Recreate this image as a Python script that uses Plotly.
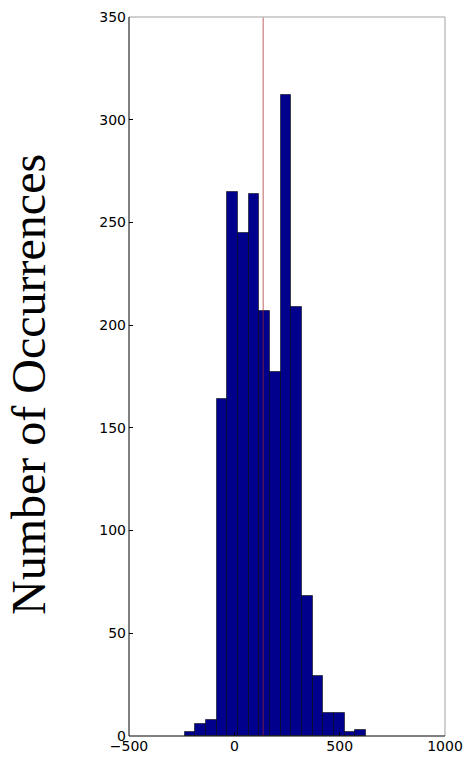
import numpy as np
import plotly.graph_objects as go

# Histogram counts per bin (equal-width bins)
bin_start = -235.0
bin_width = 50.6
counts = [2, 6, 8, 164, 265, 245, 264, 207, 177, 312, 209, 68, 29, 11, 11, 2, 3]
mean_value = 137.0

x_ticks = [-500, 0, 500, 1000]
x_tick_text = ["\u2212500", "0", "500", "1000"]
y_ticks = [0, 50, 100, 150, 200, 250, 300, 350]

edges = bin_start + bin_width * np.arange(len(counts) + 1)
centers = (edges[:-1] + edges[1:]) / 2

fig = go.Figure()
fig.add_trace(go.Bar(
    x=centers, y=counts, width=bin_width,
    marker=dict(color="#00008c", line=dict(color="rgba(0,0,0,0.55)", width=1)),
    showlegend=False, hoverinfo="skip",
))
fig.add_trace(go.Scatter(
    x=[mean_value, mean_value], y=[0, 350], mode="lines",
    line=dict(color="rgba(165,40,40,0.6)", width=1.2),
    showlegend=False, hoverinfo="skip",
))

tick_font = dict(family="DejaVu Sans", size=14, color="black")
fig.update_layout(
    width=469, height=761,
    margin=dict(l=129, r=24, t=17, b=25, autoexpand=False),
    paper_bgcolor="white", plot_bgcolor="white",
    bargap=0,
    xaxis=dict(
        range=[-500, 1000], tickvals=x_ticks, ticktext=x_tick_text,
        showgrid=False, zeroline=False, ticks="inside", ticklen=4,
        tickcolor="black", showline=False, tickfont=tick_font,
        automargin=False,
    ),
    yaxis=dict(
        range=[0, 350], tickvals=y_ticks, showgrid=False, zeroline=False,
        ticks="inside", ticklen=4, tickcolor="black", showline=False,
        tickfont=tick_font, ticklabelstandoff=2, automargin=False,
    ),
    annotations=[
        dict(text="Number of Occurrences", textangle=-90, showarrow=False,
             xref="paper", yref="paper", x=-0.3165, y=0.4896,
             xanchor="center", yanchor="middle",
             font=dict(family="Liberation Serif", size=48, color="black")),
    ],
    shapes=[
        # light top and right frame
        dict(type="line", xref="paper", yref="paper", x0=0, x1=1, y0=1, y1=1,
             line=dict(color="#c0c0c0", width=1.5)),
        dict(type="line", xref="paper", yref="paper", x0=1, x1=1, y0=0, y1=1,
             line=dict(color="#c0c0c0", width=1.5)),
        # dark left and bottom frame
        dict(type="line", xref="paper", yref="paper", x0=0, x1=0, y0=0, y1=1,
             line=dict(color="black", width=1)),
        dict(type="line", xref="paper", yref="paper", x0=0, x1=1, y0=0, y1=0,
             line=dict(color="black", width=1)),
    ],
)

fig.write_html("out.html")
